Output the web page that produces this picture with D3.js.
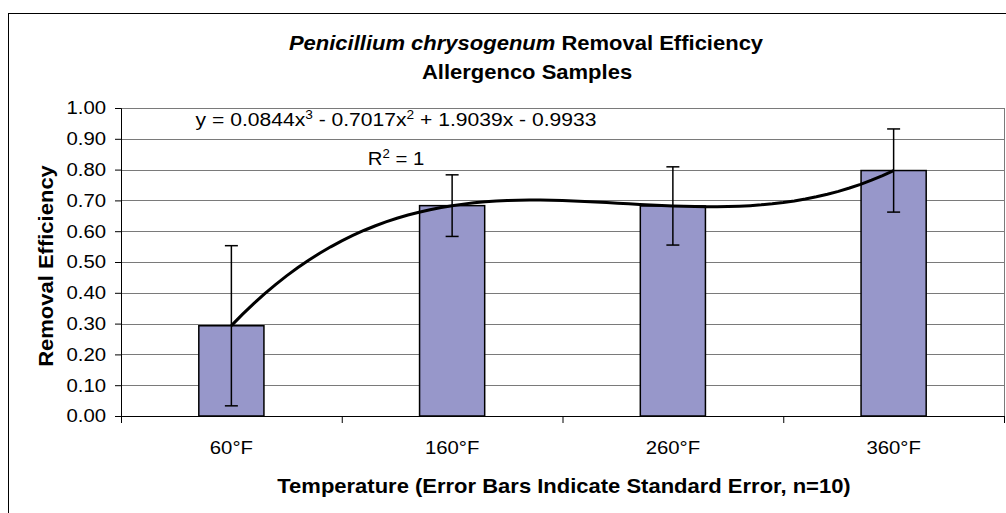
<!DOCTYPE html>
<html>
<head>
<meta charset="utf-8">
<script src="https://cdn.jsdelivr.net/npm/d3@7"></script>
<style>
  body { margin: 0; background: #fff; }
  text { font-family: "Liberation Sans", Arial, sans-serif; fill: #000; }
</style>
</head>
<body>
<div id="chart"></div>
<script>
// data
var categories = ["60°F", "160°F", "260°F", "360°F"];
var efficiency = [0.293, 0.683, 0.682, 0.797];
var stdError   = [0.260, 0.100, 0.127, 0.135];
var yTicks     = [0, 0.1, 0.2, 0.3, 0.4, 0.5, 0.6, 0.7, 0.8, 0.9, 1.0];
// polynomial trendline shown on the chart (x = 1..4)
var trendCoef  = [0.0844, -0.7017, 1.9039, -0.9933];

var W = 1006, H = 513;
var SX = 1.1; // the original text is a bit wide
var plotL = 121, plotR = 1004, plotT = 108, plotB = 416;

var svg = d3.select("#chart")
            .append("svg")
            .attr("width", W)
            .attr("height", H);

// outer chart frame
svg.append("rect")
   .attr("x", 8.5).attr("y", 13.5)
   .attr("width", 1010).attr("height", 520)
   .attr("fill", "none")
   .attr("stroke", "#000")
   .attr("stroke-width", 1);

var x = d3.scaleBand()
          .domain(categories)
          .range([plotL, plotR])
          .paddingInner(0.705)
          .paddingOuter(0.3525);

var y = d3.scaleLinear()
          .domain([0, 1])
          .range([plotB, plotT]);

function cx(d) { return x(d) + x.bandwidth() / 2; }

// gridlines
svg.append("g")
   .selectAll("line")
   .data(yTicks.slice(1))
   .enter()
   .append("line")
   .attr("x1", plotL).attr("x2", plotR)
   .attr("y1", function(d) { return Math.round(y(d)) + 0.5; })
   .attr("y2", function(d) { return Math.round(y(d)) + 0.5; })
   .attr("stroke", "#7a7a7a")
   .attr("stroke-width", 1);

// right edge of plot area
svg.append("line")
   .attr("x1", plotR + 0.5).attr("x2", plotR + 0.5)
   .attr("y1", plotT).attr("y2", plotB)
   .attr("stroke", "#7a7a7a");

// bars
svg.append("g")
   .selectAll("rect")
   .data(categories)
   .enter()
   .append("rect")
   .attr("x", function(d) { return x(d); })
   .attr("y", function(d, i) { return y(efficiency[i]); })
   .attr("width", x.bandwidth())
   .attr("height", function(d, i) { return plotB - y(efficiency[i]); })
   .attr("fill", "#9797ca")
   .attr("stroke", "#000")
   .attr("stroke-width", 1.5);

// error bars
var eb = svg.append("g")
            .attr("stroke", "#000")
            .attr("stroke-width", 1.5)
            .selectAll("g")
            .data(categories)
            .enter()
            .append("g");

eb.append("line")
  .attr("x1", cx).attr("x2", cx)
  .attr("y1", function(d, i) { return y(efficiency[i] + stdError[i]); })
  .attr("y2", function(d, i) { return y(efficiency[i] - stdError[i]); });

eb.selectAll("line.cap")
  .data(function(d, i) {
    return [efficiency[i] + stdError[i], efficiency[i] - stdError[i]].map(function(v) {
      return { c: d, v: v };
    });
  })
  .enter()
  .append("line")
  .attr("class", "cap")
  .attr("x1", function(d) { return cx(d.c) - 6.5; })
  .attr("x2", function(d) { return cx(d.c) + 6.5; })
  .attr("y1", function(d) { return y(d.v); })
  .attr("y2", function(d) { return y(d.v); });

// trendline
var xt = d3.scaleLinear()
           .domain([1, 4])
           .range([cx(categories[0]), cx(categories[3])]);

function poly(t) {
  return trendCoef[0] * t * t * t + trendCoef[1] * t * t + trendCoef[2] * t + trendCoef[3];
}

svg.append("path")
   .datum(d3.range(1, 4.001, 0.05))
   .attr("d", d3.line()
                .x(function(t) { return xt(t); })
                .y(function(t) { return y(poly(t)); }))
   .attr("fill", "none")
   .attr("stroke", "#000")
   .attr("stroke-width", 3);

// y axis
var yAxis = svg.append("g")
   .attr("transform", "translate(" + plotL + ",0)")
   .call(d3.axisLeft(y)
           .tickValues(yTicks)
           .tickFormat(d3.format(".2f"))
           .tickSize(6)
           .tickPadding(7.5));
yAxis.select(".domain").attr("stroke", "#000");
yAxis.selectAll("text")
     .attr("font-size", "18.5px")
     .attr("font-family", "Liberation Sans, Arial, sans-serif")
     .attr("transform", "scale(" + SX + ",1)");

// x axis: ticks between categories
var xb = d3.scaleLinear().domain([0, 4]).range([plotL, plotR]);
var xAxis = svg.append("g")
   .attr("transform", "translate(0," + plotB + ")")
   .call(d3.axisBottom(xb)
           .tickValues([0, 1, 2, 3, 4])
           .tickFormat("")
           .tickSize(7)
           .tickSizeOuter(0));
xAxis.select(".domain").attr("stroke", "#000");

svg.append("g")
   .selectAll("text")
   .data(categories)
   .enter()
   .append("text")
   .attr("transform", function(d) { return "translate(" + cx(d) + ",454) scale(" + SX + ",1)"; })
   .attr("text-anchor", "middle")
   .attr("font-size", "18.5px")
   .text(function(d) { return d; });

// titles
var t1 = svg.append("text")
   .attr("transform", "translate(526,50) scale(" + SX + ",1)")
   .attr("text-anchor", "middle")
   .attr("font-size", "20px")
   .attr("font-weight", "bold");
t1.append("tspan").attr("font-style", "italic").text("Penicillium chrysogenum");
t1.append("tspan").text(" Removal Efficiency");

svg.append("text")
   .attr("transform", "translate(527,79) scale(" + SX + ",1)")
   .attr("text-anchor", "middle")
   .attr("font-size", "20px")
   .attr("font-weight", "bold")
   .text("Allergenco Samples");

svg.append("text")
   .attr("transform", "translate(53,266) rotate(-90) scale(" + SX + ",1)")
   .attr("text-anchor", "middle")
   .attr("font-size", "20px")
   .attr("font-weight", "bold")
   .text("Removal Efficiency");

svg.append("text")
   .attr("transform", "translate(564,493) scale(" + SX + ",1)")
   .attr("text-anchor", "middle")
   .attr("font-size", "20px")
   .attr("font-weight", "bold")
   .text("Temperature (Error Bars Indicate Standard Error, n=10)");

// trendline equation
function fmt(v) { return d3.format(".4f")(Math.abs(v)); }
var eq = svg.append("text")
   .attr("transform", "translate(396,126) scale(1.14,1)")
   .attr("text-anchor", "middle")
   .attr("font-size", "18.5px");
eq.append("tspan").text("y = " + fmt(trendCoef[0]) + "x");
eq.append("tspan").attr("dy", -7).attr("font-size", "12px").text("3");
eq.append("tspan").attr("dy", 7).text(" - " + fmt(trendCoef[1]) + "x");
eq.append("tspan").attr("dy", -7).attr("font-size", "12px").text("2");
eq.append("tspan").attr("dy", 7).text(" + " + fmt(trendCoef[2]) + "x - " + fmt(trendCoef[3]));

var r2 = svg.append("text")
   .attr("transform", "translate(396,165) scale(" + SX + ",1)")
   .attr("text-anchor", "middle")
   .attr("font-size", "18.5px");
r2.append("tspan").text("R");
r2.append("tspan").attr("dy", -7).attr("font-size", "12px").text("2");
r2.append("tspan").attr("dy", 7).text(" = 1");
</script>
</body>
</html>
